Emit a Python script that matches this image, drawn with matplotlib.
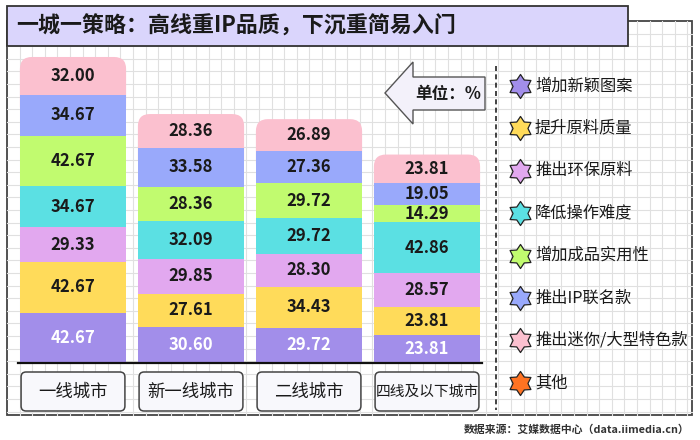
import numpy as np
import matplotlib
matplotlib.use('Agg')
import matplotlib.pyplot as plt
from matplotlib.patches import Rectangle, FancyBboxPatch, Polygon
from matplotlib.path import Path

plt.rcParams['font.family'] = ['Noto Sans CJK SC', 'DejaVu Sans']

# data
cities = ['一线城市', '新一线城市', '二线城市', '四线及以下城市']
series = ['增加新颖图案', '提升原料质量', '推出环保原料', '降低操作难度',
          '增加成品实用性', '推出IP联名款', '推出迷你/大型特色款', '其他']
values = [
    [42.67, 30.60, 29.72, 23.81],   # 增加新颖图案
    [42.67, 27.61, 34.43, 23.81],   # 提升原料质量
    [29.33, 29.85, 28.30, 28.57],   # 推出环保原料
    [34.67, 32.09, 29.72, 42.86],   # 降低操作难度
    [42.67, 28.36, 29.72, 14.29],   # 增加成品实用性
    [34.67, 33.58, 27.36, 19.05],   # 推出IP联名款
    [32.00, 28.36, 26.89, 23.81],   # 推出迷你/大型特色款
    [0.00, 0.00, 0.00, 0.00],       # 其他
]
colors = ['#a28eea', '#ffdb5a', '#e2a8ef', '#5be0e3', '#c1fb6f', '#99a9fb', '#fbc0cf', '#ff7322']
title = '一城一策略：高线重IP品质，下沉重简易入门'
unit = '单位：%'
source = '数据来源：艾媒数据中心（data.iimedia.cn）'

W, H = 700, 440
fig = plt.figure(figsize=(7, 4.4), dpi=100)

# background layer in pixel coords
bg = fig.add_axes([0, 0, 1, 1])
bg.set_xlim(0, W)
bg.set_ylim(H, 0)
bg.axis('off')

bg.add_patch(Rectangle((7, 21), 685, 394, facecolor='white', edgecolor='#444444', lw=1.3, zorder=1))
# grid
for gx in np.arange(7 + 12.6, 692, 12.6):
    bg.plot([gx, gx], [21, 415], color='#e0e0e0', lw=0.8, zorder=1.5)
for gy in np.arange(21 + 12.6, 415, 12.6):
    bg.plot([7, 692], [gy, gy], color='#e0e0e0', lw=0.8, zorder=1.5)

# title box
bg.add_patch(Rectangle((7, 6), 621, 40, facecolor='#dad5fc', edgecolor='#333333', lw=1.3, zorder=3))
bg.text(16, 26.5, title, fontsize=15.8, fontweight='bold', color='#1a1a1a', va='center', ha='left', zorder=4)

# unit arrow
arrow = [(385, 93), (413, 62), (413, 77), (485, 77), (485, 110), (413, 110), (413, 124)]
bg.add_patch(Polygon(arrow, closed=True, facecolor='#f3f1fa', edgecolor='#555555', lw=1.0, zorder=3))
bg.text(448, 93.5, unit, fontsize=12, fontweight='bold', color='#1a1a1a', ha='center', va='center', zorder=4)

# dashed divider
bg.plot([496, 496], [66, 410], color='#222222', lw=1.2, ls=(0, (3, 2)), zorder=3)

# legend
star = Path.unit_regular_star(6, 0.62)
for i, (name, c) in enumerate(zip(series, colors)):
    ly = 86 + i * 42.4
    bg.scatter([520], [ly], s=300, marker=star, color=c, edgecolors='#222222', linewidths=0.9, zorder=4)
    bg.text(535, ly, name, fontsize=11.7, color='#1a1a1a', ha='left', va='center', zorder=4)

# source
bg.text(690, 430, source, fontsize=7.8, fontweight='bold', color='#333333', ha='right', va='center')

# bar axes: baseline at y=363px, 1.183 px per unit
ppu = 1.183
top_px, bot_px, base_px = 50, 415, 363
ax = fig.add_axes([14 / W, 1 - bot_px / H, 472 / W, (bot_px - top_px) / H])
ax.set_xlim(-0.5, len(cities) - 0.5)
ax.set_ylim(-(bot_px - base_px) / ppu, (base_px - top_px) / ppu)
ax.axis('off')
ax.patch.set_alpha(0)

x = np.arange(len(cities))
bw = 0.9
vals = np.array(values)
bottoms = np.vstack([np.zeros(len(cities)), np.cumsum(vals, axis=0)[:-1]])
ppx = 472 / len(cities)  # px per x unit
r_px = 12
aspect = (1 / ppu) / (1 / ppx)

# top segment of each bar gets rounded corners
for j in range(len(cities)):
    nz = [i for i in range(len(series)) if vals[i, j] > 0]
    top_i = nz[-1]
    b = bottoms[top_i, j]
    h = vals[top_i, j]
    ax.add_patch(FancyBboxPatch((x[j] - bw / 2, b - 20), bw, h + 20,
                                boxstyle=f'round,pad=0,rounding_size={r_px / ppx}',
                                mutation_aspect=aspect, facecolor=colors[top_i],
                                edgecolor='none', zorder=2))

for i in range(len(series)):
    for j in range(len(cities)):
        if vals[i, j] <= 0:
            continue
        if i != max(k for k in range(len(series)) if vals[k, j] > 0):
            ax.bar(x[j], vals[i, j], bw, bottom=bottoms[i, j], color=colors[i], zorder=3)
        ax.text(x[j], bottoms[i, j] + vals[i, j] / 2, f'{vals[i, j]:.2f}', fontsize=12,
                fontweight='bold', color='white' if i == 0 else '#1a1a1a',
                ha='center', va='center', zorder=5)

ax.axhline(0, xmin=0.008, xmax=0.992, color='#111111', lw=1.6, zorder=6)

# category boxes
for j, name in enumerate(cities):
    y0, y1 = -(411 - base_px) / ppu, -(372 - base_px) / ppu
    ax.add_patch(FancyBboxPatch((x[j] - 0.44, y0), 0.88, y1 - y0,
                                boxstyle=f'round,pad=0,rounding_size={5 / ppx}',
                                mutation_aspect=aspect, facecolor='#f8f8fc',
                                edgecolor='#444444', lw=1.1, zorder=4, clip_on=False))
    ax.text(x[j], (y0 + y1) / 2, name, fontsize=12.5 if len(name) < 6 else 10.6,
            color='#1a1a1a', ha='center', va='center', zorder=5)

fig.savefig('out.png', dpi=100)
